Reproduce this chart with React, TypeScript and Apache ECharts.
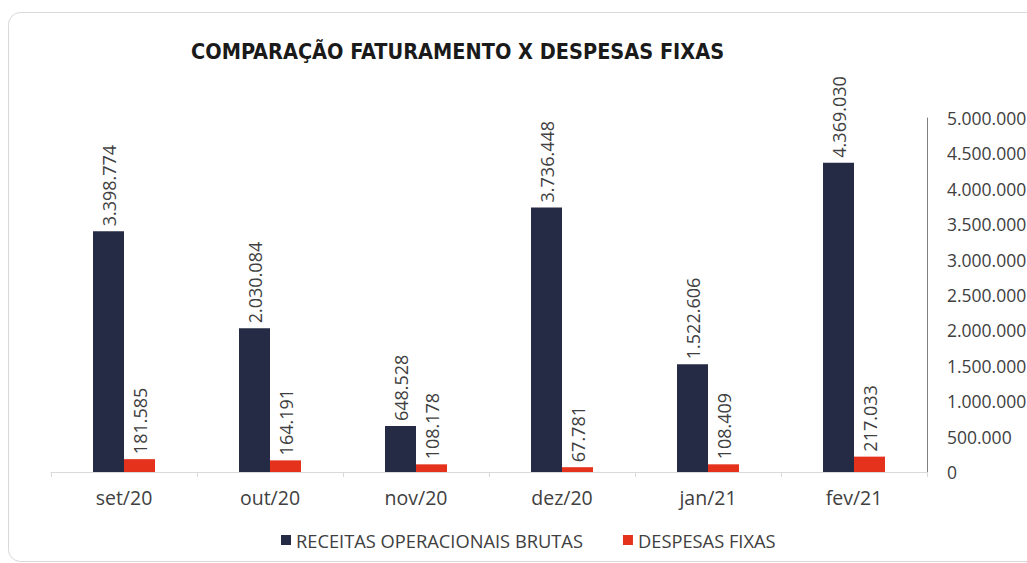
import React, { useEffect, useRef } from "react";
import * as echarts from "echarts";

const categories = ["set/20", "out/20", "nov/20", "dez/20", "jan/21", "fev/21"];
const receitas = [3398774, 2030084, 648528, 3736448, 1522606, 4369030];
const despesas = [181585, 164191, 108178, 67781, 108409, 217033];
const seriesNames = ["RECEITAS OPERACIONAIS BRUTAS", "DESPESAS FIXAS"];
const titleText = "COMPARAÇÃO FATURAMENTO X DESPESAS FIXAS";

const fmt = (v: number) => String(Math.round(v)).replace(/\B(?=(\d{3})+(?!\d))/g, ".");

const FONT = "'Open Sans', 'Noto Sans', sans-serif";
const TXT = "#404040";

export default function App() {
  const ref = useRef<HTMLDivElement>(null);
  useEffect(() => {
    if (!ref.current) return;
    const chart = echarts.init(ref.current, null, { renderer: "svg" });
    const label = {
      show: true,
      position: "top",
      rotate: 90,
      align: "left",
      verticalAlign: "middle",
      distance: 5,
      color: TXT,
      fontFamily: FONT,
      fontSize: 18,
      formatter: (p: any) => fmt(p.value),
    };
    chart.setOption({
      animation: false,
      backgroundColor: "#ffffff",
      graphic: [
        {
          type: "rect",
          shape: { x: 8.5, y: 12.5, width: 1040, height: 549, r: 12 },
          style: { fill: "none", stroke: "#d8d8d8", lineWidth: 1 },
          silent: true,
          z: -1,
        },
      ],
      title: {
        text: titleText,
        left: 186,
        top: 35,
        textStyle: {
          fontFamily: "'Liberation Sans Narrow', 'DejaVu Sans Condensed', sans-serif",
          fontWeight: "bold",
          fontSize: 21.5,
          color: "#1a1a1a",
        },
      },
      legend: {
        left: 276,
        top: 526,
        itemWidth: 10,
        itemHeight: 10,
        itemGap: 40,
        icon: "rect",
        textStyle: { fontFamily: FONT, fontSize: 18.3, color: TXT },
        data: seriesNames,
      },
      grid: { left: 51, right: 100, top: 118, bottom: 91, containLabel: false, outerBoundsMode: "none" },
      xAxis: {
        type: "category",
        data: categories,
        axisLine: { show: true, lineStyle: { color: "#d9d9d9", width: 1 } },
        axisTick: { show: true, alignWithLabel: false, length: 5, lineStyle: { color: "#d9d9d9" } },
        axisLabel: { color: TXT, fontFamily: FONT, fontSize: 19.5, margin: 15 },
      },
      yAxis: {
        type: "value",
        position: "right",
        min: 0,
        max: 5000000,
        interval: 500000,
        splitLine: { show: false },
        axisLine: { show: true, lineStyle: { color: "#7f7f7f", width: 1 } },
        axisTick: { show: false },
        axisLabel: {
          color: TXT,
          fontFamily: FONT,
          fontSize: 17.5,
          margin: 20,
          formatter: (v: number) => fmt(v),
        },
      },
      series: [
        {
          name: seriesNames[0],
          type: "bar",
          data: receitas,
          barWidth: 31,
          barGap: "0%",
          itemStyle: { color: "#262b45" },
          label,
        },
        {
          name: seriesNames[1],
          type: "bar",
          data: despesas,
          barWidth: 31,
          barGap: "0%",
          itemStyle: { color: "#e5321c" },
          label,
        },
      ],
    });
    return () => chart.dispose();
  }, []);
  return (
    <div
      ref={ref}
      style={{ position: "fixed", left: 0, top: 0, width: 1027, height: 563, background: "#fff" }}
    />
  );
}
